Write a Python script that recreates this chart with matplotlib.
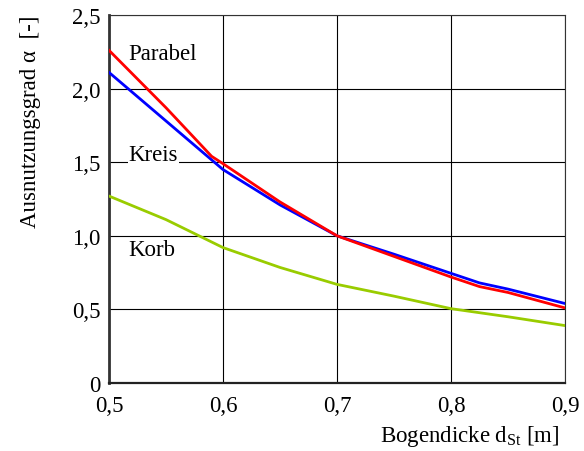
import matplotlib
matplotlib.use("Agg")
import matplotlib.pyplot as plt
from matplotlib.ticker import FixedLocator

plt.rcParams['font.family'] = ['Liberation Serif', 'DejaVu Serif']
plt.rcParams['mathtext.fontset'] = 'custom'
plt.rcParams['mathtext.rm'] = 'Liberation Serif'
plt.rcParams['mathtext.it'] = 'Liberation Serif'

FS = 16.5

# Bogendicke d_St [m]
x_parabel = [0.50, 0.55, 0.59, 0.60, 0.65, 0.70, 0.75, 0.80, 0.825, 0.85, 0.90]
y_parabel = [2.26, 1.87, 1.54, 1.49, 1.23, 1.00, 0.86, 0.72, 0.655, 0.615, 0.51]

x_kreis = [0.50, 0.55, 0.60, 0.65, 0.70, 0.75, 0.80, 0.825, 0.85, 0.90]
y_kreis = [2.11, 1.78, 1.45, 1.21, 1.00, 0.875, 0.745, 0.68, 0.638, 0.54]

x_korb = [0.50, 0.55, 0.60, 0.65, 0.70, 0.75, 0.80, 0.85, 0.90]
y_korb = [1.27, 1.11, 0.92, 0.785, 0.67, 0.59, 0.505, 0.45, 0.39]

x_ticks = [0.5, 0.6, 0.7, 0.8, 0.9]
x_ticklabels = ["0,5", "0,6", "0,7", "0,8", "0,9"]
y_ticks = [0, 0.5, 1.0, 1.5, 2.0, 2.5]
y_ticklabels = ["0", "0,5", "1,0", "1,5", "2,0", "2,5"]

fig = plt.figure(figsize=(5.84, 4.52), dpi=100)
ax = fig.add_axes([109 / 584, 1 - 384 / 452, 456 / 584, 368 / 452])

ax.set_xlim(0.5, 0.9)
ax.set_ylim(0, 2.5)
ax.xaxis.set_major_locator(FixedLocator(x_ticks))
ax.yaxis.set_major_locator(FixedLocator(y_ticks))
ax.set_xticklabels(x_ticklabels)
ax.set_yticklabels(y_ticklabels)
ax.tick_params(length=0, labelsize=FS)
ax.tick_params(axis='x', pad=9)
ax.tick_params(axis='y', pad=6)

ax.grid(True, color='black', linewidth=0.8)
ax.set_axisbelow(True)

for side in ('top', 'right'):
    ax.spines[side].set_linewidth(0.8)
    ax.spines[side].set_color('#333333')
ax.spines['left'].set_linewidth(2.0)
ax.spines['left'].set_color('#333333')
ax.spines['bottom'].set_linewidth(1.6)
ax.spines['bottom'].set_color('#222222')

ax.plot(x_korb, y_korb, color='#99cc00', linewidth=2.0, zorder=3)
ax.plot(x_kreis, y_kreis, color='#0000ff', linewidth=2.0, zorder=4)
ax.plot(x_parabel, y_parabel, color='#ff0000', linewidth=2.0, zorder=5)

ax.text(0.517, 2.24, "Parabel", fontsize=FS, ha='left', va='center', zorder=6)
ax.text(0.517, 1.55, "Kreis", fontsize=FS, ha='left', va='center', zorder=2,
        bbox=dict(facecolor='white', edgecolor='none', pad=0.5))
ax.text(0.517, 0.91, "Korb", fontsize=FS, ha='left', va='center', zorder=2,
        bbox=dict(facecolor='white', edgecolor='none', pad=0.5))

fig.text(560 / 584, 1 - 437 / 452, r"Bogendicke d$_{\mathrm{St}}$ [m]",
         fontsize=FS, ha='right', va='center')
fig.text(31 / 584, 1 - 122 / 452, "Ausnutzungsgrad α  [-]",
         fontsize=FS, ha='center', va='center', rotation=90)

fig.savefig("out.png", dpi=100, facecolor='white')
